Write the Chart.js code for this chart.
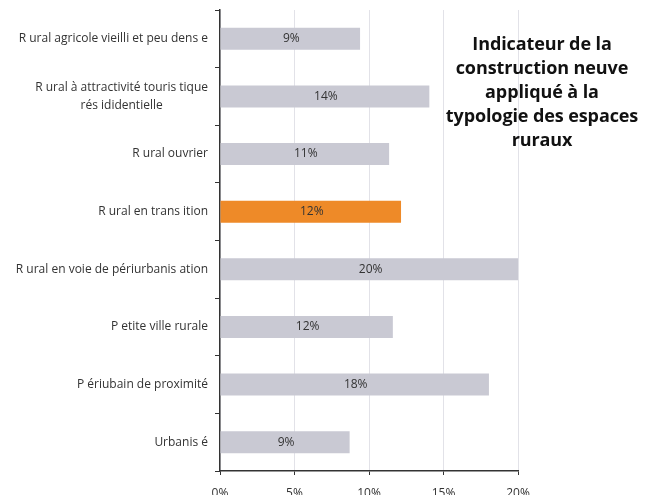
<!DOCTYPE html>
<html>
<head>
<meta charset="utf-8">
<script src="https://cdn.jsdelivr.net/npm/chart.js@4/dist/chart.umd.min.js"></script>
<style>
  html, body { margin: 0; padding: 0; background: #fff; }
  #wrap { position: relative; width: 658px; height: 495px; overflow: hidden; }
  #title { position: absolute; left: 412px; top: 31px; width: 260px; text-align: center;
    font-family: "Open Sans", sans-serif; font-weight: bold; font-size: 18px; line-height: 24px; color: #111; letter-spacing: -0.1px; }
</style>
</head>
<body>
<div id="wrap">
  <canvas id="c" width="658" height="495"></canvas>
  <div id="title">Indicateur de la<br>construction neuve<br>appliqué à la<br>typologie des espaces<br>ruraux</div>
</div>
<script>
const categories = [
  ["R ural agricole vieilli et peu dens e"],
  ["R ural à attractivité touris tique", "rés ididentielle"],
  ["R ural ouvrier"],
  ["R ural en trans ition"],
  ["R ural en voie de périurbanis ation"],
  ["P etite ville rurale"],
  ["P ériubain de proximité"],
  ["Urbanis é"]
];
const values = [9.4, 14.05, 11.35, 12.15, 20.05, 11.6, 18.05, 8.7];
const valueLabels = ["9%", "14%", "11%", "12%", "20%", "12%", "18%", "9%"];
const highlightIndex = 3;
const xTicks = [0, 5, 10, 15, 20];

const grey = "#c9c9d3";
const orange = "#ee8a28";
const colors = values.map((v, i) => i === highlightIndex ? orange : grey);

const labelPlugin = {
  id: "customLabels",
  afterDatasetsDraw(chart) {
    const ctx = chart.ctx;
    const meta = chart.getDatasetMeta(0);
    ctx.save();
    ctx.font = "12px 'Open Sans', sans-serif";
    ctx.fillStyle = "#333";
    ctx.textAlign = "center";
    ctx.textBaseline = "middle";
    meta.data.forEach((bar, i) => {
      const cx = (bar.base + bar.x) / 2 + 1;
      ctx.fillText(valueLabels[i], cx, bar.y);
    });
    const yScale = chart.scales.y;
    const rightX = chart.chartArea.left - 12;
    categories.forEach((lines, i) => {
      const y = yScale.getPixelForValue(i);
      const lh = 18;
      const widths = lines.map(l => ctx.measureText(l).width);
      const maxW = Math.max(...widths);
      const startY = y - (lines.length - 1) * lh / 2;
      lines.forEach((l, j) => {
        if (lines.length > 1) {
          ctx.textAlign = "center";
          ctx.fillText(l, rightX - maxW / 2, startY + j * lh);
        } else {
          ctx.textAlign = "right";
          ctx.fillText(l, rightX, startY + j * lh);
        }
      });
    });
    ctx.restore();
  }
};

new Chart(document.getElementById("c"), {
  type: "bar",
  data: {
    labels: categories,
    datasets: [{
      data: values,
      backgroundColor: colors,
      borderWidth: 0,
      barPercentage: 0.38,
      categoryPercentage: 1.0
    }]
  },
  options: {
    indexAxis: "y",
    responsive: false,
    animation: false,
    devicePixelRatio: 1,
    layout: { padding: { top: 10, right: 140, bottom: 0, left: 0 } },
    plugins: { legend: { display: false }, tooltip: { enabled: false }, title: { display: false } },
    scales: {
      x: {
        min: 0, max: 20,
        afterBuildTicks(scale) { scale.ticks = xTicks.map(v => ({ value: v })); },
        afterFit(scale) { scale.height = 24; },
        border: { display: true, color: "#333", width: 1.5 },
        grid: { color: "#e2e2e8", lineWidth: 1, tickColor: "#333", tickLength: 4, drawTicks: true },
        ticks: { callback: v => v + "%", font: { family: "'Open Sans', sans-serif", size: 12 }, color: "#333", padding: 11, maxRotation: 0 }
      },
      y: {
        afterFit(scale) { scale.width = 220; },
        border: { display: true, color: "#333", width: 1.5 },
        grid: { drawOnChartArea: false, drawTicks: true, tickLength: 5, color: "#333", offset: true },
        ticks: { display: false }
      }
    }
  },
  plugins: [labelPlugin]
});
</script>
</body>
</html>
